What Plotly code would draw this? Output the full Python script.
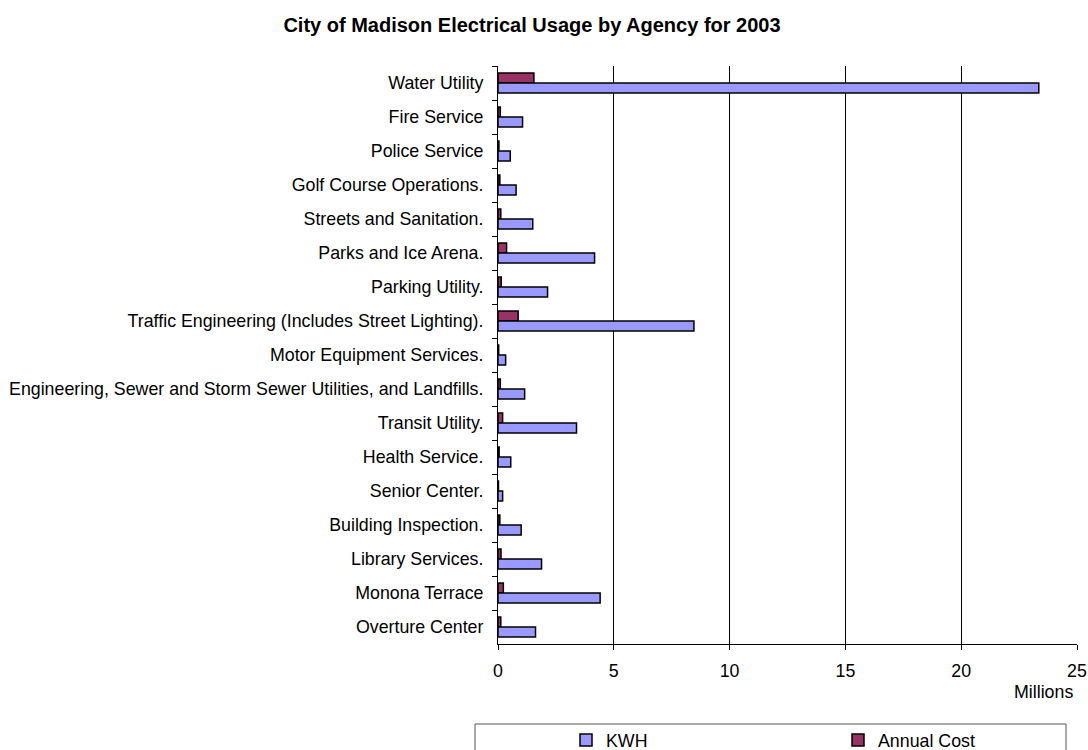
import plotly.graph_objects as go

agencies = [
    "Water Utility",
    "Fire Service",
    "Police Service",
    "Golf Course Operations.",
    "Streets and Sanitation.",
    "Parks and Ice Arena.",
    "Parking Utility.",
    "Traffic Engineering (Includes Street Lighting).",
    "Motor Equipment Services.",
    "Engineering, Sewer and Storm Sewer Utilities, and Landfills.",
    "Transit Utility.",
    "Health Service.",
    "Senior Center.",
    "Building Inspection.",
    "Library Services.",
    "Monona Terrace",
    "Overture Center",
]
kwh_millions = [23.35, 1.06, 0.53, 0.78, 1.50, 4.17, 2.14, 8.46, 0.33, 1.15,
                3.39, 0.55, 0.20, 1.00, 1.88, 4.41, 1.62]
cost_millions = [1.55, 0.10, 0.04, 0.08, 0.12, 0.37, 0.14, 0.87, 0.03, 0.10,
                 0.20, 0.05, 0.02, 0.08, 0.13, 0.23, 0.12]
x_ticks = [0, 5, 10, 15, 20, 25]

FONT = "Arial, Liberation Sans, sans-serif"
FS = 17.8

fig = go.Figure()
fig.add_trace(go.Bar(
    y=agencies, x=cost_millions, orientation="h", name="Annual Cost",
    marker=dict(color="#993366", line=dict(color="black", width=1.5)),
))
fig.add_trace(go.Bar(
    y=agencies, x=kwh_millions, orientation="h", name="KWH",
    marker=dict(color="#9999FF", line=dict(color="black", width=1.5)),
))

W, H = 1088, 750
L, R, T, B = 498, 11, 66, 106
pw, ph = W - L - R, H - T - B

def px2x(px):
    return (px - L) / pw

def py2y(py):
    return (H - B - py) / ph

fig.update_layout(
    width=W, height=H,
    margin=dict(l=L, r=R, t=T, b=B, autoexpand=False),
    paper_bgcolor="white", plot_bgcolor="white",
    barmode="group", bargap=0.41, bargroupgap=0,
    font=dict(family=FONT, size=FS, color="black"),
    title=dict(text="<b>City of Madison Electrical Usage by Agency for 2003</b>",
               x=532 / W, xanchor="center", y=1 - 25 / H, yanchor="middle",
               font=dict(family=FONT, size=20, color="black")),
    showlegend=True,
    legend=dict(orientation="h", traceorder="reversed",
                x=px2x(566), xanchor="left", y=py2y(722), yanchor="top",
                entrywidth=227, entrywidthmode="pixels", itemwidth=30,
                bgcolor="rgba(0,0,0,0)", borderwidth=0,
                font=dict(family=FONT, size=FS, color="black")),
    xaxis=dict(range=[0, 25], tickvals=x_ticks, ticktext=[str(v) for v in x_ticks],
               showgrid=True, gridcolor="black", gridwidth=1,
               showline=True, linecolor="black", linewidth=1,
               ticks="outside", ticklen=5, tickcolor="black",
               ticklabelstandoff=6, zeroline=False, fixedrange=True),
    yaxis=dict(autorange="reversed", type="category",
               showline=True, linecolor="black", linewidth=1,
               ticks="outside", ticklen=5, tickcolor="black", tickson="boundaries",
               ticklabelstandoff=10, showgrid=False, fixedrange=True),
    shapes=[dict(type="rect", xref="paper", yref="paper",
                 x0=px2x(475), x1=px2x(1066), y0=py2y(724), y1=py2y(770),
                 line=dict(color="#555555", width=1), fillcolor="rgba(0,0,0,0)")],
    annotations=[dict(text="Millions", xref="paper", yref="paper",
                      x=px2x(1075), xanchor="right", y=py2y(692), yanchor="middle",
                      showarrow=False, font=dict(family=FONT, size=FS, color="black"))],
)

fig.write_html("out.html")
